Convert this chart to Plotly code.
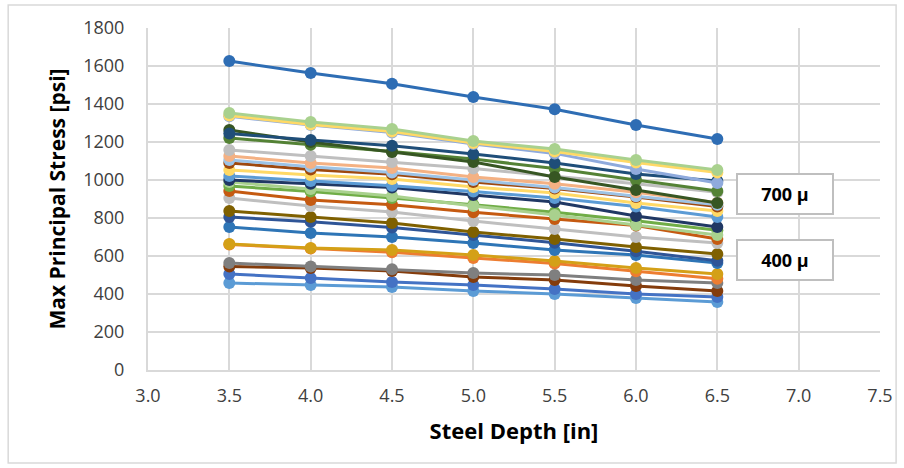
import plotly.graph_objects as go

# Steel depth (in) at which each case was evaluated
depths = [3.5, 4.0, 4.5, 5.0, 5.5, 6.0, 6.5]

# Max principal stress (psi) for each analysis case, top to bottom
case_01 = [1626, 1563, 1507, 1437, 1372, 1289, 1216]
case_02 = [1353, 1305, 1268, 1205, 1163, 1105, 1053]
case_03 = [1340, 1292, 1255, 1195, 1150, 1092, 1040]
case_04 = [1335, 1290, 1250, 1190, 1140, 1058, 984]
case_05 = [1245, 1210, 1180, 1137, 1089, 1032, 995]
case_06 = [1263, 1200, 1147, 1095, 1016, 947, 879]
case_07 = [1221, 1185, 1150, 1110, 1060, 1000, 942]
case_08 = [1158, 1126, 1095, 1060, 1020, 980, 935]
case_09 = [1126, 1089, 1063, 1016, 980, 935, 880]
case_10 = [1105, 1070, 1040, 1000, 960, 915, 870]
case_11 = [1090, 1055, 1030, 990, 955, 910, 860]
case_12 = [1053, 1026, 1005, 963, 932, 879, 837]
case_13 = [1021, 995, 970, 940, 905, 860, 805]
case_14 = [1000, 980, 960, 921, 884, 810, 753]
case_15 = [989, 953, 916, 863, 816, 763, 711]
case_16 = [968, 940, 905, 870, 830, 785, 735]
case_17 = [942, 895, 870, 830, 795, 760, 690]
case_18 = [905, 863, 832, 784, 742, 700, 668]
case_19 = [837, 805, 774, 726, 689, 647, 611]
case_20 = [805, 780, 750, 710, 670, 625, 575]
case_21 = [753, 721, 700, 668, 632, 605, 563]
case_22 = [663, 642, 632, 605, 574, 537, 505]
case_23 = [660, 640, 620, 590, 560, 520, 480]
case_24 = [563, 545, 530, 510, 500, 474, 458]
case_25 = [545, 537, 521, 490, 474, 442, 416]
case_26 = [505, 484, 463, 447, 426, 400, 384]
case_27 = [458, 447, 437, 416, 400, 379, 358]

cases = [
    case_27, case_26, case_25, case_24, case_23, case_22, case_21, case_20,
    case_19, case_18, case_17, case_16, case_15, case_14, case_13, case_12,
    case_11, case_10, case_09, case_08, case_07, case_06, case_05, case_04,
    case_03, case_02, case_01,
]
colors = [
    "#5B9BD5", "#4472C4", "#843C0C", "#7F7F7F", "#ED7D31", "#D4A017", "#2E75B6", "#2F5597",
    "#7F6000", "#BFBFBF", "#C55A11", "#70AD47", "#A9D18E", "#203864", "#5B9BD5", "#FFD966",
    "#9E480E", "#9DC3E6", "#F4B183", "#BFBFBF", "#548235", "#375623", "#1F4E79", "#8FAADC",
    "#FFD966", "#A9D18E", "#2E6DB4",
]

y_ticks = [0, 200, 400, 600, 800, 1000, 1200, 1400, 1600, 1800]
x_ticks = [3.0, 3.5, 4.0, 4.5, 5.0, 5.5, 6.0, 6.5, 7.0, 7.5]

fig = go.Figure()
for vals, col in zip(cases, colors):
    fig.add_trace(go.Scatter(
        x=depths, y=vals, mode="lines+markers",
        line=dict(color=col, width=3),
        marker=dict(color=col, size=12),
        showlegend=False, hoverinfo="x+y",
    ))

grid = "#D9D9D9"
fig.update_layout(
    width=904, height=468,
    margin=dict(l=148, r=24, t=28, b=98),
    paper_bgcolor="white", plot_bgcolor="white",
    font=dict(family="Open Sans, sans-serif", color="#404040"),
    xaxis=dict(
        range=[3.0, 7.5], tickvals=x_ticks, tickformat=".1f",
        showgrid=True, gridcolor=grid, gridwidth=2,
        showline=True, linecolor=grid, linewidth=2,
        zeroline=False, ticks="", ticklabelstandoff=8,
        tickfont=dict(size=18, color="#404040"),
        title=dict(text="<b>Steel Depth [in]</b>", font=dict(size=22, color="#000000"), standoff=18),
    ),
    yaxis=dict(
        range=[0, 1800], tickvals=y_ticks,
        showgrid=True, gridcolor=grid, gridwidth=2,
        showline=True, linecolor=grid, linewidth=2,
        zeroline=False, ticks="", ticklabelstandoff=18,
        tickfont=dict(size=18, color="#404040"),
        title=dict(text="<b>Max Principal Stress [psi]</b>", font=dict(size=21, color="#000000"), standoff=12),
    ),
)

# Strain-level callouts beside the curve ends
for label, yv in [("700 \u03bc", 926), ("400 \u03bc", 579)]:
    fig.add_annotation(
        x=6.916, y=yv, xref="x", yref="y", text="<b>" + label + "</b>",
        showarrow=False, width=94, height=38, borderpad=0,
        bgcolor="white", bordercolor="#BFBFBF", borderwidth=2,
        font=dict(size=18, color="#000000"),
    )

# Light frame around the whole chart
fig.add_shape(
    type="rect", xref="paper", yref="paper",
    x0=-0.191, x1=1.022, y0=-0.272, y1=1.067,
    line=dict(color="#D9D9D9", width=1.5), fillcolor="rgba(0,0,0,0)", layer="below",
)

fig.write_html("out.html")
